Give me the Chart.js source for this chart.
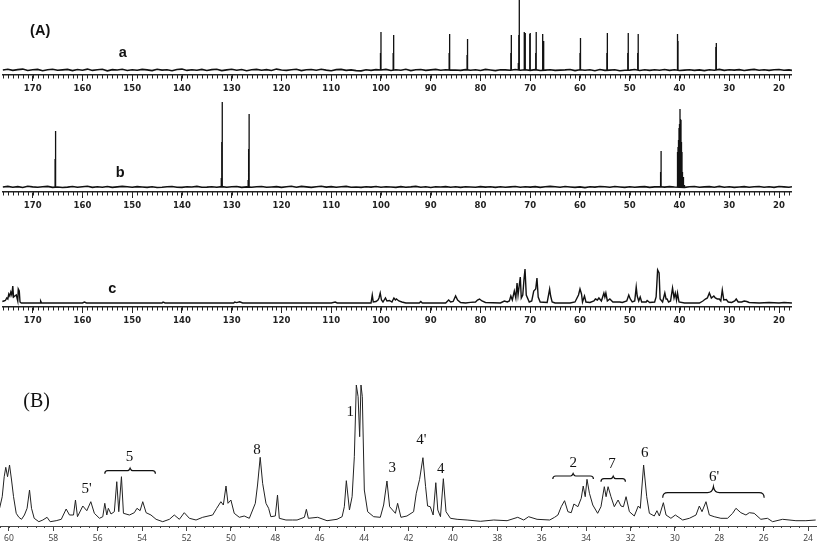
<!DOCTYPE html>
<html>
<head>
<meta charset="utf-8">
<script src="https://cdn.jsdelivr.net/npm/chart.js@4"></script>
<style>
html,body{margin:0;padding:0;background:#fff;width:817px;height:543px;overflow:hidden}
.panel{position:absolute}
</style>
</head>
<body>
<div class="panel" style="left:2px;top:0;width:790px;height:100px"><canvas id="panelA"></canvas></div>
<div class="panel" style="left:2px;top:100px;width:790px;height:117px"><canvas id="panelB"></canvas></div>
<div class="panel" style="left:2px;top:217px;width:790px;height:115px"><canvas id="panelC"></canvas></div>
<div class="panel" style="left:0;top:380px;width:817px;height:163px"><canvas id="panelD"></canvas></div>
<script>
// baseline noise read along traces a and b, one value per ppm
const noisePpm = [176,175,174,173,172,171,170,169,168,167,166,165,164,163,162,161,160,159,158,157,156,155,154,153,152,151,150,149,148,147,146,145,144,143,142,141,140,139,138,137,136,135,134,133,132,131,130,129,128,127,126,125,124,123,122,121,120,119,118,117,116,115,114,113,112,111,110,109,108,107,106,105,104,103,102,101,100,99,98,97,96,95,94,93,92,91,90,89,88,87,86,85,84,83,82,81,80,79,78,77,76,75,74,73,72,71,70,69,68,67,66,65,64,63,62,61,60,59,58,57,56,55,54,53,52,51,50,49,48,47,46,45,44,43,42,41,40,39,38,37,36,35,34,33,32,31,30,29,28,27,26,25,24,23,22,21,20,19,18,17.4];
const aNoise = [5,5.7,4.6,5.4,5.9,4.5,5.2,5.6,4.3,5.3,5.8,4.7,5.1,5.6,4.4,5.5,4.8,5.9,4.6,5.2,5.7,4.2,5.4,5,5.8,4.5,5.3,4.7,5.6,5.1,4.4,5.7,4.9,5.3,4.3,5.5,5.9,4.6,5.2,4.8,5.6,4.5,5.4,5.8,4.4,5.1,5.7,4.7,5.5,4.3,5.2,5.6,4.8,5.4,4.5,5.9,5,4.6,5.3,5.7,4.4,5.2,5.5,4.7,5.8,4.9,4.3,5.4,5.6,4.6,5.1,4.4,4.1,5.2,4.6,5.4,5,5.6,4.5,5.3,4.8,5.7,4.4,5.2,5.5,4.6,5.1,5.6,4.7,5.3,4.9,5,4.6,5.4,4.8,5.2,4.5,5.6,5,4.4,5.3,5.1,4.7,5.5,4.8,5.2,4.6,5.4,4.5,4.9,5.3,4.6,4.9,5.1,5.5,4.4,5.2,4.7,5.3,4.3,5.5,4.6,4.9,5.3,4.2,4.8,4.9,5.5,4.5,5.2,4.6,5.3,4.8,5.5,4.6,5.2,4.5,4.9,5.3,4.6,5.1,4.4,5.2,4.8,5.6,4.6,5.3,4.9,5.4,4.5,5.1,5.6,4.7,5.3,4.6,5.2,5.5,4.7,5.1,4.6];
const bNoise = [5,5.6,4.8,5.4,4.5,5.7,5.1,4.7,5.3,5.6,4.6,5,4.5,4.9,5.5,4.7,5.2,5.7,4.6,5.3,4.8,5.5,4.6,5.1,5.6,5.2,4.7,5.4,5,4.6,5.3,4.5,4.7,5.2,5.5,4.8,4.6,5.3,5,5.6,4.7,4.9,5.3,4.8,5.4,4.7,5.2,5.5,4.6,5.1,4.8,5.3,5.5,4.7,5,5.4,4.6,5.2,5.7,4.8,5.6,5.1,4.6,5.3,5.7,4.9,5.4,4.7,5.2,5.6,4.8,5,4.6,5.3,4.9,5.5,4.7,5.2,5,4.6,5.4,4.8,5.1,5.6,4.7,5.3,4.5,5.2,5,5.4,4.8,5.2,4.6,5.3,5,4.7,5.4,4.9,5.2,4.6,5.3,4.8,5.1,5.5,4.7,5.2,4.9,5.4,4.6,5.3,5.6,5.2,4.7,5.5,5,4.6,5.1,4.4,5.3,4.9,5.5,5.2,4.7,5.5,5,4.6,5.3,4.8,5.1,5.4,4.6,5.1,5.3,4.9,5.4,5,4.8,4.6,5.2,5.5,4.7,5.1,5.4,4.8,5.6,4.7,5.2,4.6,5,5.4,4.7,5.2,5.5,4.8,5.3,4.6,5.5,5.1,4.7,5.2];

// sticks of trace a
const aPeakPpm = [100,100.1,97.45,97.55,86.2,86.3,82.6,82.7,73.8,73.9,72.3,72.2,72.4,71.2,71,71.1,70.1,70,68.8,68.9,67.5,67.3,59.9,60,54.5,54.6,50.3,50.4,48.3,48.4,40.4,40.3,32.6,32.7];
const aPeakTop = [43,22,40,22,41,22,36,20,40,22,40,75,12,43,42,22,41,42,43,22,41,34,37,22,42,22,42,22,41,22,41,34,32,28];

// sticks of trace b
const bPeakPpm = [165.4,165.5,131.9,132,132.1,126.5,126.6,126.7,43.7,43.8,40.4,40.3,40.2,40.1,40,39.9,39.8,39.7,39.6,39.5,39.4,39.2,39];
const bPeakTop = [61,33,90,50,14,78,43,12,41,20,40,45,52,64,68,83,73,72,50,40,20,15,7];

// trace c
const cPpm = [176.1,175.8,175.5,175.2,175,174.8,174.6,174.4,174.2,174,173.85,173.6,173.3,173,172.9,172.7,172.55,172.3,170,168.5,168.4,168.2,160,159.6,159.2,144,143.8,143.4,129.6,129.4,129,128.4,127.8,110,109.2,108.8,102,101.75,101.55,101,100.6,100.4,100.15,99.9,99.6,99.1,98.8,98.3,97.8,97.4,97.1,96.9,96.4,95.8,95,92.3,92,91.7,87,86.4,86,85.5,85,84.6,84,83,82,81,80.6,80.2,79.7,79,76,75.2,74.6,74.2,73.9,73.6,73.2,72.9,72.65,72.45,72.2,72,71.8,71.5,71.25,71.05,70.8,70.2,69.7,69.3,68.9,68.65,68.4,68,66.6,66.1,65.9,65.6,65,62,61,60.6,60.3,60,59.7,59.5,59.1,58.8,58,57.2,56.9,56.5,56.2,55.7,55.2,55,54.8,54.5,54,53.4,52,51.5,50.6,50.2,49.9,49.5,49,48.7,48.5,48.2,47.9,47.6,46.7,46.5,46,45,44.7,44.4,44.1,43.9,43.4,42.95,42.7,42.5,42.2,41.8,41.4,41.1,40.85,40.6,40.4,40.1,39,36,35.3,34.8,34.4,34,33.6,33.1,32.8,32.4,32,31.7,31.4,31.1,30.6,30.2,29.5,28.9,28.6,28.2,27.5,27,26.5,26,24,22,20,19,17.4];
const cInt = [5.5,6,6.5,9,8,13,11,15,12,21,10,11,12,6,18,16,5,4,4,4,6,4,4,5,4,4,5,4,4,5,4.4,5.2,4,4,5,4,4,12,5,5.5,7,9,14,7,5,9,6,6.5,5,9,7,8,6,5,4,4,5.5,4,4,7,5,5.5,11,7,4.5,4,4.6,5,7,8,6,4.5,4,6,5,6,11,7,16,9,24,12,22,30,9,12,28,38,12,5,6,16,18,29,10,5,4.5,18,11,5,4,4,5,9,12,18,13,5,11,5,4.5,6,8,7,9,6,14,10,14,6,8,5,5,4.5,6,12,8,5,6,20,11,6,10,5,5,6.5,4.5,5,10,37,34,8,5,14,8,8,5,6,19,9,14,7,14,5,4,4,6,8,9,14,9,11,9,8,8,6,17,7,7.5,5,4.5,6,8,5,5,6,5.5,4.5,4,4.5,4,4.5,4];

// expanded spectrum (B)
const dPpm = [60.42,60.3,60.21,60.14,60.06,59.97,59.88,59.79,59.67,59.55,59.43,59.3,59.18,59.07,58.98,58.86,58.65,58.47,58.28,58.14,57.87,57.64,57.42,57.27,57.09,57,56.91,56.67,56.49,56.31,56.15,55.92,55.77,55.68,55.59,55.52,55.4,55.25,55.14,55.05,54.93,54.84,54.57,54.35,54.23,54.09,53.97,53.82,53.6,53.37,53.07,52.77,52.55,52.32,52.1,51.87,51.57,51.27,50.82,50.64,50.45,50.34,50.22,50.13,50,49.85,49.62,49.4,49.17,48.9,48.8,48.68,48.57,48.42,48.3,48.2,48,47.9,47.82,47.52,47.22,47.02,46.69,46.6,46.51,46.09,45.67,45.22,44.99,44.89,44.8,44.66,44.54,44.44,44.35,44.27,44.2,44.14,44.08,43.99,43.84,43.57,43.27,43.12,42.97,42.85,42.59,42.49,42.34,42.07,41.77,41.65,41.5,41.35,41.23,41.14,41.02,40.89,40.77,40.68,40.56,40.43,40.31,40.11,39.81,39.36,38.76,38.16,37.56,37.08,36.81,36.59,36.21,35.64,35.42,35.27,35.12,34.97,34.82,34.67,34.55,34.37,34.22,34.13,34.04,33.96,33.85,33.7,33.48,33.33,33.18,33.1,33.01,32.88,32.73,32.56,32.43,32.32,32.2,32.05,31.83,31.65,31.56,31.41,31.27,31.15,30.93,30.81,30.7,30.52,30.4,30.18,29.98,29.65,29.35,29.05,28.9,28.78,28.6,28.45,28.23,27.93,27.63,27.4,27.25,27.03,26.8,26.65,26.43,26.13,25.83,25.6,25.15,24.55,24.1,23.66];
const dInt = [17.7,29.3,49.3,58.7,49.3,61,46,29.3,12.7,8.7,6.7,11,17.7,36,17.7,7.7,4.3,6,8.7,4.3,5.3,6.7,17,11,11,26,9.3,20,15.3,24.3,12.7,7.7,9.3,22.7,11,17.7,12,14.3,44.3,14.3,49.3,12.7,11,13.3,17.7,15.3,24.3,13.3,11,6.7,4.3,6.7,11,6.7,13.3,7.7,6,8.7,11,17.7,24.3,21,40,22.7,26,12.7,8.7,10,7.7,22.7,41,68.7,42.7,22.7,17.7,9.3,10,31,7.7,6,6,6,8.7,16.7,7.7,8.7,5.3,6.7,9.3,19.3,45.3,16,29.3,69.3,141,129.3,89.3,141,129.3,36,14.3,9.3,8.7,21,45,19.3,12.7,22.7,8.7,10,14.3,32.7,46.7,68.3,39.3,20,19.3,11,43.3,16,9.3,47.3,14.3,7.7,6.7,6,4.7,6,5.3,8.7,6,9.3,6.7,6,8.7,11,19.3,25.3,14.3,13.3,22,19.3,27.7,40,29.3,46.7,32.7,21,12.7,19.3,39.3,29.3,39.3,29.3,19.3,26,20,19.3,29.3,14.3,10,20,17.7,61,29.3,12.7,10,15.3,10,23.3,11,7.7,11,6,7.7,11,20,14.3,24.3,11,9.3,7.7,7.7,12.7,17.7,13.3,11,13.3,12.7,6.7,7.7,4.3,6.7,5.3,5.3,6];

// brace groups over (B): from ppm, to ppm, level
const braceFrom = [55.68,35.5,33.33,30.55];
const braceTo = [53.4,33.67,32.23,25.98];
const braceLevel = [55.3,50,47.3,33.3];

// texts of each panel
const aNotes = ['(A)','a'], aNotePpm = [168.5,151.9], aNoteInt = [44,22];
const bNotes = ['b'], bNotePpm = [152.4], bNoteInt = [18.7];
const cNotes = ['c'], cNotePpm = [154], cNoteInt = [17.7];
const dNotes = ['(B)',"5'",'5','8','1','3',"4'",'4','2','7','6',"6'"];
const dNotePpm = [58.75,56.5,54.57,48.82,44.62,42.73,41.42,40.55,34.58,32.83,31.36,28.23];
const dNoteInt = [124,37,69,76,114,58,86,57,63,62,73,49];

function zip(xs,ys)
{
    return xs.map((x,i)=>({x:x,y:ys[i]}))
}
function sticks(xs,tops,base)
{
    var out = []
    xs.forEach((x,i)=>
    {
        out.push({x:x,y:base},{x:x,y:tops[i]},{x:x,y:null})
    })
    return out
}

// small ticks and the free text go on top of what chart.js draws
const extras = {
    id:'extras',
    afterDraw(chart,args,opts){
        var ctx = chart.ctx, xs = chart.scales.x, ys = chart.scales.y, a = chart.chartArea
        ctx.save()
        ctx.strokeStyle = opts.tickColor
        ctx.lineWidth = 1
        ctx.beginPath()
        for(var v = opts.tickStart; v >= xs.min; v -= opts.tickStep)
        {
            var px = Math.round(xs.getPixelForValue(v))+0.5
            ctx.moveTo(px,a.bottom)
            ctx.lineTo(px,a.bottom+opts.tickLen)
        }
        ctx.stroke()
        if(opts.braces) braceDraw(ctx,xs,ys)
        ctx.fillStyle = '#111'
        ctx.textAlign = 'center'
        ctx.textBaseline = 'middle'
        opts.notes.forEach((t,i)=>
        {
            ctx.font = t=='(B)' ? '20px "Liberation Serif"' : opts.font
            ctx.fillText(t,xs.getPixelForValue(opts.notePpm[i]),ys.getPixelForValue(opts.noteInt[i]))
        })
        ctx.restore()
    }
}
function braceDraw(ctx,xs,ys)
{
    ctx.strokeStyle = '#111'
    ctx.lineWidth = 1.2
    braceFrom.forEach((f,i)=>
    {
        var l = xs.getPixelForValue(f), r = xs.getPixelForValue(braceTo[i]), y = ys.getPixelForValue(braceLevel[i])
        var m = (l+r)/2, d = i==3 ? 5 : 3, t = i==3 ? 6 : 2.5
        ctx.beginPath()
        ctx.moveTo(l,y+d)
        ctx.quadraticCurveTo(l,y,l+d,y)
        ctx.lineTo(m-t,y)
        ctx.quadraticCurveTo(m-1,y,m,y-t)
        ctx.quadraticCurveTo(m+1,y,m+t,y)
        ctx.lineTo(r-d,y)
        ctx.quadraticCurveTo(r,y,r,y+d)
        ctx.stroke()
    })
}

function makePanel(id,cfg)
{
    return new Chart(document.getElementById(id),{
        type:'line',
        data:{datasets:cfg.sets.map((s)=>({
            data:s.data,borderColor:cfg.color,borderWidth:s.width,pointRadius:0,
            tension:0,spanGaps:false,borderCapStyle:'butt',borderJoinStyle:'miter'
        }))},
        options:{
            responsive:true,maintainAspectRatio:false,animation:false,
            parsing:true,normalized:false,
            layout:{padding:0},
            plugins:{legend:{display:false},tooltip:{enabled:false},extras:cfg.extras},
            scales:{
                x:{
                    type:'linear',reverse:true,min:cfg.xMin,max:cfg.xMax,
                    afterFit(scale){scale.height = cfg.axisH},
                    border:{color:cfg.axisColor,width:cfg.axisW},
                    grid:{drawOnChartArea:false,drawTicks:true,tickLength:cfg.majorLen,color:cfg.axisColor,tickColor:cfg.axisColor},
                    ticks:{stepSize:cfg.step,includeBounds:false,autoSkip:false,maxRotation:0,padding:cfg.labelPad,
                        color:cfg.labelColor,font:cfg.labelFont}
                },
                y:{display:false,min:0,max:cfg.yMax}
            }
        },
        plugins:[extras]
    })
}

const upperAxis = {
    xMin:17.39,xMax:176.17,step:10,axisH:25,axisColor:'#222',axisW:1.5,majorLen:6,labelPad:3,
    labelColor:'#222',labelFont:{family:'"DejaVu Sans"',size:8.5,weight:'bold'},color:'#111'
}
const upperFont = 'bold 14.5px "Liberation Sans"'

makePanel('panelA',Object.assign({},upperAxis,{
    yMax:75,
    sets:[{data:zip(noisePpm,aNoise),width:1.6},{data:sticks(aPeakPpm,aPeakTop,5),width:1.3}],
    extras:{tickStart:176,tickStep:1,tickLen:3.5,tickColor:'#222',notes:aNotes,notePpm:aNotePpm,noteInt:aNoteInt,font:upperFont}
}))
makePanel('panelB',Object.assign({},upperAxis,{
    yMax:92,
    sets:[{data:zip(noisePpm,bNoise),width:1.6},{data:sticks(bPeakPpm,bPeakTop,5),width:1.3}],
    extras:{tickStart:176,tickStep:1,tickLen:3.5,tickColor:'#222',notes:bNotes,notePpm:bNotePpm,noteInt:bNoteInt,font:upperFont}
}))
makePanel('panelC',Object.assign({},upperAxis,{
    yMax:90,
    sets:[{data:zip(cPpm,cInt),width:1.4}],
    extras:{tickStart:176,tickStep:1,tickLen:3.5,tickColor:'#222',notes:cNotes,notePpm:cNotePpm,noteInt:cNoteInt,font:upperFont}
}))
makePanel('panelD',{
    xMin:23.6,xMax:60.4,step:2,axisH:17,axisColor:'#444',axisW:1,majorLen:5,labelPad:2,
    labelColor:'#444',labelFont:{family:'"Noto Sans"',size:8.5},color:'#222',
    yMax:146,
    sets:[{data:zip(dPpm,dInt),width:1}],
    extras:{tickStart:60.4,tickStep:0.4,tickLen:2,tickColor:'#444',notes:dNotes,notePpm:dNotePpm,noteInt:dNoteInt,font:'15px "Liberation Serif"',braces:true}
})
</script>
</body>
</html>
